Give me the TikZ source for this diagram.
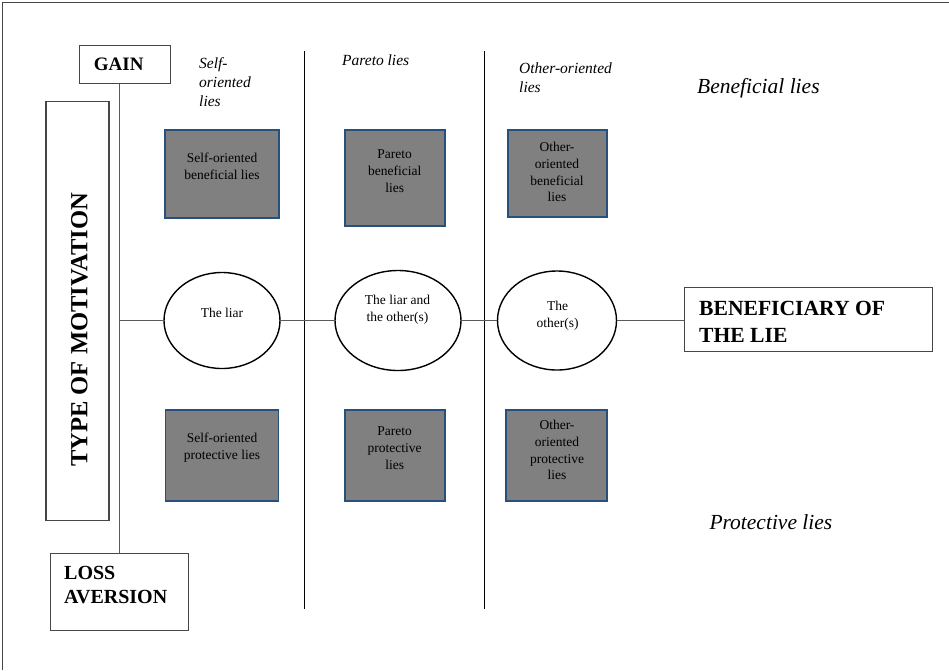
\documentclass[tikz,border=0pt]{standalone}
\usepackage{fontspec}
\setmainfont{Liberation Serif}
\usetikzlibrary{shapes.geometric}
\definecolor{boxgray}{RGB}{128,128,128}
\definecolor{boxblue}{RGB}{40,80,125}
\definecolor{framegray}{RGB}{70,70,70}
\definecolor{linegray}{RGB}{90,90,90}
\begin{document}
\begin{tikzpicture}[x=1pt,y=-1pt,
  gbox/.style={draw=boxblue, line width=1.8pt, fill=boxgray, inner sep=0pt},
  btext/.style={align=center, inner sep=0pt, font=\fontsize{13.5}{16.8}\selectfont},
  ell/.style={ellipse, draw=black, line width=1.4pt, inner sep=0pt},
  frame/.style={draw=framegray, line width=1.1pt, inner sep=0pt},
  boldtext/.style={inner sep=0pt, align=left, font=\fontsize{19.5}{24}\selectfont\bfseries},
  collabel/.style={inner sep=0pt, align=left, anchor=west, font=\fontsize{15.5}{19}\selectfont\itshape},
  rowlabel/.style={inner sep=0pt, anchor=west, font=\fontsize{21.5}{26}\selectfont\itshape},
  conn/.style={draw=linegray, line width=1.1pt},
  divider/.style={draw=black, line width=1pt}
]
\useasboundingbox (0,0) rectangle (949,670);
% outer frame (left and top edges)
\draw[draw=framegray, line width=1.3pt] (2.5,670) -- (2.5,2.5) -- (949,2.5);

% dividers
\draw[divider] (304.3,51) -- (304.3,609);
\draw[divider] (484,51) -- (484,609);

% left frame boxes
\node[frame, minimum width=91pt, minimum height=38.5pt] (gain) at (125,64.5) {};
\node[boldtext, font=\fontsize{19}{23}\selectfont\bfseries] (gaint) at (118.7,64.5) {GAIN};
\node[frame, minimum width=63pt, minimum height=419pt] (type) at (77.5,311) {};
\node[boldtext, rotate=90, font=\fontsize{24.6}{28}\selectfont\bfseries] (typet) at (79.3,330) {TYPE OF MOTIVATION};
\node[frame, minimum width=138pt, minimum height=77pt] (loss) at (119.2,592.2) {};
\node[boldtext, anchor=west, font=\fontsize{20}{24}\selectfont\bfseries] (losst) at (64,585) {LOSS\\AVERSION};

% beneficiary box
\node[frame, minimum width=248pt, minimum height=64pt] (ben) at (808.5,319.5) {};
\node[boldtext, anchor=west, font=\fontsize{21.6}{27}\selectfont\bfseries] (bent) at (699,321.5) {BENEFICIARY OF\\THE LIE};

% column labels
\node[collabel] (c1) at (199,82) {Self-\\oriented\\lies};
\node[collabel] (c2) at (342,60) {Pareto lies};
\node[collabel] (c3) at (519,77.5) {Other-oriented\\lies};
\node[rowlabel] (r1) at (697,88) {Beneficial lies};
\node[rowlabel] (r2) at (709.3,522) {Protective lies};

% gray boxes
\node[gbox, minimum width=114pt, minimum height=88pt] (b1) at (222.3,173.8) {};
\node[btext] (b1t) at (222,166) {Self-oriented\\beneficial lies};
\node[gbox, minimum width=100pt, minimum height=96pt] (b2) at (394.7,178.2) {};
\node[btext] (b2t) at (394.7,171) {Pareto\\beneficial\\lies};
\node[gbox, minimum width=99pt, minimum height=87pt] (b3) at (557.3,173.8) {};
\node[btext] (b3t) at (557,172) {Other-\\oriented\\beneficial\\lies};
\node[gbox, minimum width=113pt, minimum height=91pt] (b4) at (222,455.7) {};
\node[btext] (b4t) at (222,448) {Self-oriented\\protective lies};
\node[gbox, minimum width=100pt, minimum height=91pt] (b5) at (394.7,455.7) {};
\node[btext] (b5t) at (394.7,448) {Pareto\\protective\\lies};
\node[gbox, minimum width=101pt, minimum height=91pt] (b6) at (556.5,455.7) {};
\node[btext] (b6t) at (557,450) {Other-\\oriented\\protective\\lies};

% ellipses
\node[ell, minimum width=116pt, minimum height=96pt] (e1) at (222,320.5) {};
\node[btext] (e1t) at (222,313) {The liar};
\node[ell, minimum width=126pt, minimum height=100pt] (e2) at (398,320.5) {};
\node[btext] (e2t) at (397.5,309.5) {The liar and\\the other(s)};
\node[ell, minimum width=119pt, minimum height=99pt] (e3) at (557,320.5) {};
\node[btext] (e3t) at (557.5,315.5) {The\\other(s)};

% connectors
\draw[conn] (gain.south -| loss.north) -- (loss.north);
\coordinate (junction) at (loss.north |- e1.west);
\draw[conn] (junction) -- (e1.west);
\draw[conn] (e1.east) -- (e2.west);
\draw[conn] (e2.east) -- (e3.west);
\draw[conn] (e3.east) -- (e3.east -| ben.west);
\end{tikzpicture}
\end{document}
